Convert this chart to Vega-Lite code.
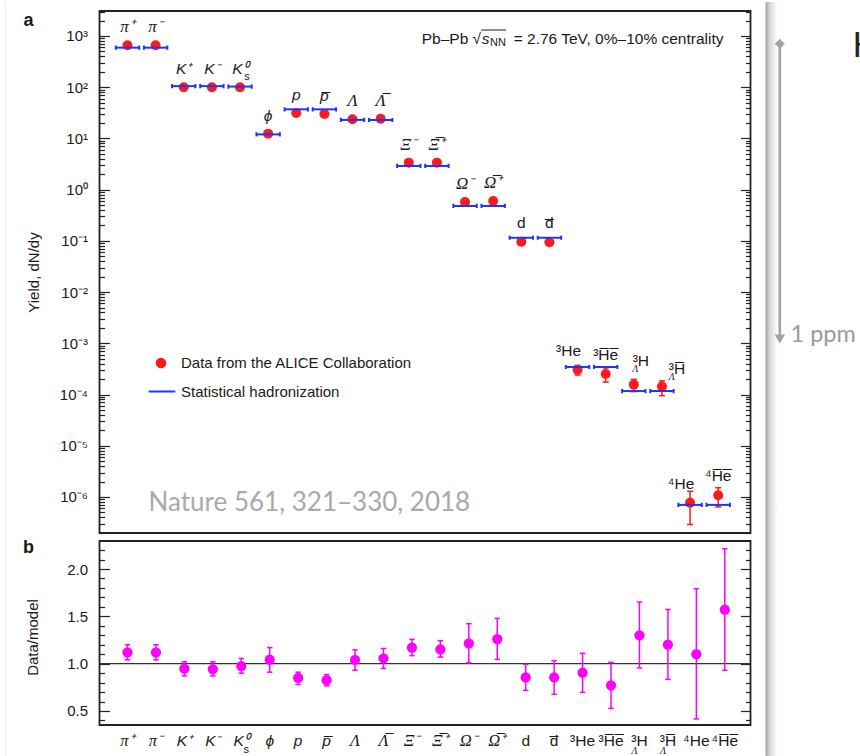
{
  "$schema": "https://vega.github.io/schema/vega-lite/v6.json",
  "background": "white",
  "padding": {"left": 3.5, "top": 0, "right": 0, "bottom": 0},
  "bounds": "flush",
  "spacing": 8,
  "config": {
    "font": "Liberation Sans",
    "view": {"stroke": "#222222", "strokeWidth": 1.8},
    "axis": {
      "domain": false, "grid": false, "tickColor": "#222222", "tickWidth": 1.2,
      "labelColor": "#1a1a1a", "labelFont": "Liberation Sans", "labelFontSize": 15,
      "labelOverlap": false, "titleFont": "Liberation Sans", "titleFontSize": 15,
      "titleFontWeight": "normal", "titleColor": "#1a1a1a"
    },
    "legend": {"labelFont": "Liberation Sans", "labelFontSize": 15, "labelColor": "#1a1a1a", "labelLimit": 400},
    "text": {"color": "#1a1a1a"}
  },
  "datasets": {
    "particles": [
      {"idx": 0, "name": "π⁺", "yield": 658, "model": 592, "r": 1.12, "rlo": 1.04, "rhi": 1.2},
      {"idx": 1, "name": "π⁻", "yield": 658, "model": 592, "r": 1.12, "rlo": 1.04, "rhi": 1.2},
      {"idx": 2, "name": "K⁺", "yield": 100, "model": 105, "r": 0.947, "rlo": 0.87, "rhi": 1.02},
      {"idx": 3, "name": "K⁻", "yield": 100, "model": 105, "r": 0.943, "rlo": 0.87, "rhi": 1.02},
      {"idx": 4, "name": "K⁰", "sub": "s", "yield": 100, "model": 103, "r": 0.975, "rlo": 0.9, "rhi": 1.055},
      {"idx": 5, "name": "ϕ", "yield": 12.4, "model": 12, "r": 1.042, "rlo": 0.91, "rhi": 1.17},
      {"idx": 6, "name": "p", "yield": 31.4, "model": 37, "r": 0.85, "rlo": 0.78, "rhi": 0.91},
      {"idx": 7, "name": "p̅", "yield": 30, "model": 37, "r": 0.825, "rlo": 0.765, "rhi": 0.885},
      {"idx": 8, "name": "Λ", "yield": 23.6, "model": 23, "r": 1.04, "rlo": 0.93, "rhi": 1.145},
      {"idx": 9, "name": "Λ̅", "yield": 24.3, "model": 22.9, "r": 1.056, "rlo": 0.95, "rhi": 1.16},
      {"idx": 10, "name": "Ξ⁻", "yield": 3.37, "model": 2.9, "r": 1.17, "rlo": 1.085, "rhi": 1.257},
      {"idx": 11, "name": "Ξ̅⁺", "yield": 3.37, "model": 2.9, "r": 1.15, "rlo": 1.07, "rhi": 1.243},
      {"idx": 12, "name": "Ω⁻", "yield": 0.574, "model": 0.48, "r": 1.215, "rlo": 1.01, "rhi": 1.422},
      {"idx": 13, "name": "Ω̅⁺", "yield": 0.6, "model": 0.48, "r": 1.26, "rlo": 1.045, "rhi": 1.478},
      {"idx": 14, "name": "d", "yield": 0.096, "model": 0.115, "r": 0.856, "rlo": 0.718, "rhi": 0.993},
      {"idx": 15, "name": "d̅", "yield": 0.094, "model": 0.115, "r": 0.856, "rlo": 0.676, "rhi": 1.032},
      {"idx": 16, "name": "³He", "yield": 0.000306, "model": 0.000345, "ylo": 0.00024, "yhi": 0.00037, "r": 0.905, "rlo": 0.697, "rhi": 1.109},
      {"idx": 17, "name": "³H̅e̅", "yield": 0.000252, "model": 0.000345, "ylo": 0.000175, "yhi": 0.00033, "r": 0.771, "rlo": 0.528, "rhi": 1.014},
      {"idx": 18, "name": "³H", "sub": "Λ", "yield": 0.000156, "model": 0.000117, "ylo": 0.000114, "yhi": 0.000198, "r": 1.3, "rlo": 0.955, "rhi": 1.651},
      {"idx": 19, "name": "³H̅", "sub": "Λ", "yield": 0.000143, "model": 0.000117, "ylo": 0.000095, "yhi": 0.000185, "r": 1.2, "rlo": 0.834, "rhi": 1.573},
      {"idx": 20, "name": "⁴He", "yield": 7.7e-7, "model": 7.0e-7, "ylo": 2.9e-7, "yhi": 1.29e-6, "r": 1.1, "rlo": 0.416, "rhi": 1.792},
      {"idx": 21, "name": "⁴H̅e̅", "yield": 1.08e-6, "model": 7.0e-7, "ylo": 6.4e-7, "yhi": 1.52e-6, "r": 1.57, "rlo": 0.93, "rhi": 2.214}
    ]
  },
  "vconcat": [
    {
      "width": 651,
      "height": 522,
      "data": {"name": "particles"},
      "resolve": {"axis": {"y": "independent"}},
      "layer": [
        {
          "data": {"values": [{}]},
          "mark": {"type": "rule", "color": "#eeeeee", "strokeWidth": 1},
          "encoding": {
            "x": {"datum": -4.337, "type": "quantitative", "axis": null, "scale": {"domain": [-0.995, 22.148], "nice": false, "zero": false}},
            "y": {"datum": 4613, "type": "quantitative", "axis": null, "scale": {"type": "log", "domain": [1.98e-7, 3076], "nice": false}},
            "y2": {"datum": 8e-12}
          }
        },
        {
          "data": {"values": [{}]},
          "mark": {"type": "rect", "strokeWidth": 0, "fill": {"gradient": "linear", "x1": 0, "y1": 0, "x2": 1, "y2": 0, "stops": [{"offset": 0, "color": "#a3a3a3"}, {"offset": 0.35, "color": "#d6d6d6"}, {"offset": 1, "color": "#ffffff"}]}},
          "encoding": {
            "x": {"datum": 22.681, "type": "quantitative", "axis": null},
            "x2": {"datum": 23.107},
            "y": {"datum": 4613, "type": "quantitative", "axis": null},
            "y2": {"datum": 8e-12}
          }
        },
        {
          "data": {"values": [{}]},
          "mark": {"type": "rule", "color": "#9aa89d", "strokeWidth": 2.6},
          "encoding": {
            "x": {"datum": 23.189, "type": "quantitative", "axis": null},
            "y": {"datum": 708, "type": "quantitative", "axis": null},
            "y2": {"datum": 0.0013}
          }
        },
        {
          "data": {"values": [{}]},
          "mark": {"type": "point", "shape": "diamond", "filled": true, "size": 100, "color": "#9aa89d", "opacity": 1},
          "encoding": {
            "x": {"datum": 23.189, "type": "quantitative", "axis": null},
            "y": {"datum": 708, "type": "quantitative", "axis": null}
          }
        },
        {
          "data": {"values": [{}]},
          "mark": {"type": "point", "shape": "triangle-down", "filled": true, "size": 110, "color": "#9aa89d", "opacity": 1},
          "encoding": {
            "x": {"datum": 23.189, "type": "quantitative", "axis": null},
            "y": {"datum": 0.00121, "type": "quantitative", "axis": null}
          }
        },
        {
          "data": {"values": [{}]},
          "mark": {"type": "text", "text": "1 ppm", "font": "Lato", "fontSize": 23.5, "color": "#9a9a9a", "align": "left", "baseline": "middle"},
          "encoding": {
            "x": {"datum": 23.57, "type": "quantitative", "axis": null},
            "y": {"datum": 0.00145, "type": "quantitative", "axis": null}
          }
        },
        {
          "data": {"values": [{}]},
          "mark": {"type": "text", "text": "H", "font": "Lato", "fontSize": 34, "color": "#222222", "align": "left", "baseline": "middle"},
          "encoding": {
            "x": {"datum": 25.774, "type": "quantitative", "axis": null},
            "y": {"datum": 610, "type": "quantitative", "axis": null}
          }
        },
        {
          "data": {"values": [{}]},
          "mark": {"type": "text", "text": "a", "fontSize": 18, "fontWeight": "bold", "align": "center", "baseline": "middle"},
          "encoding": {
            "x": {"datum": -3.519, "type": "quantitative", "axis": null},
            "y": {"datum": 1963, "type": "quantitative", "axis": null}
          }
        },
        {
          "data": {"values": [{}]},
          "mark": {"type": "text", "text": "Nature 561, 321–330, 2018", "font": "Lato", "fontSize": 26, "color": "#a9a9a9", "align": "left", "baseline": "middle"},
          "encoding": {
            "x": {"datum": 0.75, "type": "quantitative", "axis": null},
            "y": {"datum": 7.6e-7, "type": "quantitative", "axis": null}
          }
        },
        {
          "data": {"values": [{}]},
          "mark": {"type": "text", "text": "= 2.76 TeV, 0%–10% centrality", "fontSize": 15.5, "align": "right", "baseline": "middle"},
          "encoding": {
            "x": {"datum": 21.188, "type": "quantitative", "axis": null},
            "y": {"datum": 873, "type": "quantitative", "axis": null}
          }
        },
        {
          "data": {"values": [{}]},
          "mark": {"type": "text", "text": "NN", "fontSize": 11, "align": "right", "baseline": "middle", "dx": -217.5, "dy": 4},
          "encoding": {
            "x": {"datum": 21.188, "type": "quantitative", "axis": null},
            "y": {"datum": 873, "type": "quantitative", "axis": null}
          }
        },
        {
          "data": {"values": [{}]},
          "mark": {"type": "text", "text": "s", "fontSize": 15.5, "fontStyle": "italic", "align": "right", "baseline": "middle", "dx": -233.9},
          "encoding": {
            "x": {"datum": 21.188, "type": "quantitative", "axis": null},
            "y": {"datum": 873, "type": "quantitative", "axis": null}
          }
        },
        {
          "data": {"values": [{}]},
          "mark": {"type": "text", "text": "Pb–Pb √", "fontSize": 15.5, "align": "right", "baseline": "middle", "dx": -242.4},
          "encoding": {
            "x": {"datum": 21.188, "type": "quantitative", "axis": null},
            "y": {"datum": 873, "type": "quantitative", "axis": null}
          }
        },
        {
          "data": {"values": [{}]},
          "mark": {"type": "rule", "color": "#1a1a1a", "strokeWidth": 1},
          "encoding": {
            "x": {"datum": 12.571, "type": "quantitative", "axis": null},
            "x2": {"datum": 13.456},
            "y": {"datum": 1309, "type": "quantitative", "axis": null}
          }
        },
        {
          "transform": [{"filter": "isValid(datum.ylo)"}],
          "mark": {"type": "rule", "color": "#ff1a1a", "strokeWidth": 1.5},
          "encoding": {
            "x": {"field": "idx", "type": "quantitative", "axis": null},
            "y": {"field": "ylo", "type": "quantitative", "axis": null},
            "y2": {"field": "yhi"}
          }
        },
        {
          "transform": [{"filter": "isValid(datum.ylo)"}],
          "mark": {"type": "point", "shape": "M-1,0H1", "filled": false, "size": 36, "strokeWidth": 1.5, "color": "#ff1a1a", "opacity": 1},
          "encoding": {
            "x": {"field": "idx", "type": "quantitative", "axis": null},
            "y": {"field": "ylo", "type": "quantitative", "axis": null}
          }
        },
        {
          "transform": [{"filter": "isValid(datum.yhi)"}],
          "mark": {"type": "point", "shape": "M-1,0H1", "filled": false, "size": 36, "strokeWidth": 1.5, "color": "#ff1a1a", "opacity": 1},
          "encoding": {
            "x": {"field": "idx", "type": "quantitative", "axis": null},
            "y": {"field": "yhi", "type": "quantitative", "axis": null}
          }
        },
        {
          "mark": {"type": "point", "shape": "circle", "filled": true, "size": 100, "opacity": 1},
          "encoding": {
            "x": {"field": "idx", "type": "quantitative", "axis": null},
            "y": {
              "field": "yield", "type": "quantitative",
              "axis": {
                "orient": "left",
                "values": [2e-7, 3e-7, 4e-7, 5e-7, 6e-7, 7e-7, 8e-7, 9e-7, 1e-6, 2e-6, 3e-6, 4e-6, 5e-6, 6e-6, 7e-6, 8e-6, 9e-6, 1e-5, 2e-5, 3e-5, 4e-5, 5e-5, 6e-5, 7e-5, 8e-5, 9e-5, 1e-4, 2e-4, 3e-4, 4e-4, 5e-4, 6e-4, 7e-4, 8e-4, 9e-4, 0.001, 0.002, 0.003, 0.004, 0.005, 0.006, 0.007, 0.008, 0.009, 0.01, 0.02, 0.03, 0.04, 0.05, 0.06, 0.07, 0.08, 0.09, 0.1, 0.2, 0.3, 0.4, 0.5, 0.6, 0.7, 0.8, 0.9, 1, 2, 3, 4, 5, 6, 7, 8, 9, 10, 20, 30, 40, 50, 60, 70, 80, 90, 100, 200, 300, 400, 500, 600, 700, 800, 900, 1000, 2000, 3000],
                "labelExpr": "abs(log(datum.value)/LN10 - round(log(datum.value)/LN10)) < 0.001 ? ['10⁻⁶','10⁻⁵','10⁻⁴','10⁻³','10⁻²','10⁻¹','10⁰','10¹','10²','10³'][round(log(datum.value)/LN10) + 6] : ''",
                "tickSize": {"condition": {"test": "abs(log(datum.value)/LN10 - round(log(datum.value)/LN10)) < 0.001", "value": -10}, "value": -5},
                "labelPadding": 22,
                "title": "Yield, dN/dy",
                "titleAngle": -90,
                "titleX": -66,
                "titleY": 261,
                "titleAlign": "center",
                "titleBaseline": "middle"
              }
            },
            "color": {
              "datum": "Data from the ALICE Collaboration",
              "type": "nominal",
              "scale": {"domain": ["Data from the ALICE Collaboration"], "range": ["#ff1a1a"]},
              "legend": {
                "orient": "none",
                "legendX": 54,
                "legendY": 344.5,
                "title": null,
                "symbolType": "circle",
                "symbolSize": 110,
                "symbolStrokeWidth": 0,
                "symbolOpacity": 1,
                "labelOffset": 12.5
              }
            }
          }
        },
        {
          "mark": {"type": "point", "filled": false, "size": 548, "strokeWidth": 2, "color": "#1f35ff", "opacity": 1},
          "encoding": {
            "x": {"field": "idx", "type": "quantitative", "axis": null},
            "y": {
              "field": "model", "type": "quantitative",
              "axis": {
                "orient": "right",
                "values": [2e-7, 3e-7, 4e-7, 5e-7, 6e-7, 7e-7, 8e-7, 9e-7, 1e-6, 2e-6, 3e-6, 4e-6, 5e-6, 6e-6, 7e-6, 8e-6, 9e-6, 1e-5, 2e-5, 3e-5, 4e-5, 5e-5, 6e-5, 7e-5, 8e-5, 9e-5, 1e-4, 2e-4, 3e-4, 4e-4, 5e-4, 6e-4, 7e-4, 8e-4, 9e-4, 0.001, 0.002, 0.003, 0.004, 0.005, 0.006, 0.007, 0.008, 0.009, 0.01, 0.02, 0.03, 0.04, 0.05, 0.06, 0.07, 0.08, 0.09, 0.1, 0.2, 0.3, 0.4, 0.5, 0.6, 0.7, 0.8, 0.9, 1, 2, 3, 4, 5, 6, 7, 8, 9, 10, 20, 30, 40, 50, 60, 70, 80, 90, 100, 200, 300, 400, 500, 600, 700, 800, 900, 1000, 2000, 3000],
                "labels": false,
                "tickSize": {"condition": {"test": "abs(log(datum.value)/LN10 - round(log(datum.value)/LN10)) < 0.001", "value": -10}, "value": -5},
                "title": null
              }
            },
            "shape": {
              "datum": "Statistical hadronization",
              "type": "nominal",
              "scale": {"domain": ["Statistical hadronization"], "range": ["M-1,0H1"]},
              "legend": {
                "orient": "none",
                "legendX": 48,
                "legendY": 366,
                "title": null,
                "symbolSize": 713,
                "symbolStrokeColor": "#1f35ff",
                "symbolStrokeWidth": 2,
                "symbolFillColor": "transparent",
                "symbolOpacity": 1,
                "labelOffset": 4.5
              }
            }
          }
        },
        {
          "mark": {"type": "point", "shape": "M-1,-0.18V0.18M1,-0.18V0.18", "filled": false, "size": 548, "strokeWidth": 2, "color": "#1f35ff", "opacity": 1},
          "encoding": {
            "x": {"field": "idx", "type": "quantitative", "axis": null},
            "y": {"field": "model", "type": "quantitative", "axis": null}
          }
        },
        {
          "transform": [{"filter": "indexof([0, 1, 8, 9, 10, 11, 12, 13], datum.idx) >= 0"}],
          "mark": {"type": "text", "font": "Liberation Serif", "fontStyle": "italic", "fontSize": 17, "align": "center", "baseline": "middle", "dy": -18},
          "encoding": {
            "x": {"field": "idx", "type": "quantitative", "axis": null},
            "y": {"field": "yield", "type": "quantitative", "axis": null},
            "text": {"field": "name"}
          }
        },
        {
          "transform": [{"filter": "datum.idx >= 2 && datum.idx <= 7"}],
          "mark": {"type": "text", "fontStyle": "italic", "fontSize": 15.5, "align": "center", "baseline": "middle", "dy": -18},
          "encoding": {
            "x": {"field": "idx", "type": "quantitative", "axis": null},
            "y": {"field": "yield", "type": "quantitative", "axis": null},
            "text": {"field": "name"}
          }
        },
        {
          "transform": [{"filter": "indexof([14, 15, 17, 21], datum.idx) >= 0"}],
          "mark": {"type": "text", "fontSize": 15.5, "align": "center", "baseline": "middle", "dy": -19},
          "encoding": {
            "x": {"field": "idx", "type": "quantitative", "axis": null},
            "y": {"field": "yield", "type": "quantitative", "axis": null},
            "text": {"field": "name"}
          }
        },
        {
          "transform": [{"filter": "datum.idx == 16 || datum.idx == 20"}],
          "mark": {"type": "text", "fontSize": 15.5, "align": "center", "baseline": "middle", "dx": -9, "dy": -19},
          "encoding": {
            "x": {"field": "idx", "type": "quantitative", "axis": null},
            "y": {"field": "yield", "type": "quantitative", "axis": null},
            "text": {"field": "name"}
          }
        },
        {
          "transform": [{"filter": "datum.idx == 18"}],
          "mark": {"type": "text", "fontSize": 15.5, "align": "center", "baseline": "middle", "dx": 7, "dy": -24},
          "encoding": {
            "x": {"field": "idx", "type": "quantitative", "axis": null},
            "y": {"field": "yield", "type": "quantitative", "axis": null},
            "text": {"field": "name"}
          }
        },
        {
          "transform": [{"filter": "datum.idx == 19"}],
          "mark": {"type": "text", "fontSize": 15.5, "align": "center", "baseline": "middle", "dx": 15, "dy": -17.5},
          "encoding": {
            "x": {"field": "idx", "type": "quantitative", "axis": null},
            "y": {"field": "yield", "type": "quantitative", "axis": null},
            "text": {"field": "name"}
          }
        },
        {
          "transform": [{"filter": "datum.idx == 4"}],
          "mark": {"type": "text", "fontSize": 11, "align": "center", "baseline": "middle", "dx": 7, "dy": -10},
          "encoding": {
            "x": {"field": "idx", "type": "quantitative", "axis": null},
            "y": {"field": "yield", "type": "quantitative", "axis": null},
            "text": {"field": "sub"}
          }
        },
        {
          "transform": [{"filter": "datum.idx == 18"}],
          "mark": {"type": "text", "font": "Liberation Serif", "fontStyle": "italic", "fontSize": 10, "align": "center", "baseline": "middle", "dx": 1.5, "dy": -16},
          "encoding": {
            "x": {"field": "idx", "type": "quantitative", "axis": null},
            "y": {"field": "yield", "type": "quantitative", "axis": null},
            "text": {"field": "sub"}
          }
        },
        {
          "transform": [{"filter": "datum.idx == 19"}],
          "mark": {"type": "text", "font": "Liberation Serif", "fontStyle": "italic", "fontSize": 10, "align": "center", "baseline": "middle", "dx": 9.7, "dy": -9.5},
          "encoding": {
            "x": {"field": "idx", "type": "quantitative", "axis": null},
            "y": {"field": "yield", "type": "quantitative", "axis": null},
            "text": {"field": "sub"}
          }
        }
      ]
    },
    {
      "width": 651,
      "height": 184,
      "data": {"name": "particles"},
      "resolve": {"axis": {"y": "independent"}},
      "layer": [
        {
          "data": {"values": [{}]},
          "mark": {"type": "text", "text": "b", "fontSize": 18, "fontWeight": "bold", "align": "center", "baseline": "middle"},
          "encoding": {
            "x": {"datum": -3.48, "type": "quantitative", "axis": null, "scale": {"domain": [-0.984, 21.904], "nice": false, "zero": false}},
            "y": {"datum": 2.225, "type": "quantitative", "axis": null, "scale": {"domain": [0.352, 2.296], "nice": false, "zero": false}}
          }
        },
        {
          "data": {"values": [{}]},
          "mark": {"type": "rule", "color": "#333333", "strokeWidth": 1.2},
          "encoding": {
            "y": {"datum": 1, "type": "quantitative", "axis": null}
          }
        },
        {
          "mark": {"type": "rule", "color": "#ff00ff", "strokeWidth": 1.5},
          "encoding": {
            "x": {"field": "idx", "type": "quantitative", "axis": null},
            "y": {"field": "rlo", "type": "quantitative", "axis": null},
            "y2": {"field": "rhi"}
          }
        },
        {
          "mark": {"type": "point", "shape": "M-1,0H1", "filled": false, "size": 30, "strokeWidth": 1.5, "color": "#ff00ff", "opacity": 1},
          "encoding": {
            "x": {"field": "idx", "type": "quantitative", "axis": null},
            "y": {"field": "rlo", "type": "quantitative", "axis": null}
          }
        },
        {
          "mark": {"type": "point", "shape": "M-1,0H1", "filled": false, "size": 30, "strokeWidth": 1.5, "color": "#ff00ff", "opacity": 1},
          "encoding": {
            "x": {"field": "idx", "type": "quantitative", "axis": null},
            "y": {
              "field": "rhi", "type": "quantitative",
              "axis": {
                "orient": "right",
                "values": [0.4, 0.5, 0.6, 0.7, 0.8, 0.9, 1.0, 1.1, 1.2, 1.3, 1.4, 1.5, 1.6, 1.7, 1.8, 1.9, 2.0, 2.1, 2.2],
                "labels": false,
                "tickSize": {"condition": {"test": "abs(datum.value*2 - round(datum.value*2)) < 0.001", "value": -10}, "value": -5},
                "title": null
              }
            }
          }
        },
        {
          "mark": {"type": "point", "shape": "circle", "filled": true, "size": 105, "color": "#ff00ff", "opacity": 1},
          "encoding": {
            "x": {"field": "idx", "type": "quantitative", "axis": null},
            "y": {
              "field": "r", "type": "quantitative",
              "axis": {
                "orient": "left",
                "values": [0.4, 0.5, 0.6, 0.7, 0.8, 0.9, 1.0, 1.1, 1.2, 1.3, 1.4, 1.5, 1.6, 1.7, 1.8, 1.9, 2.0, 2.1, 2.2],
                "labelExpr": "abs(datum.value*2 - round(datum.value*2)) < 0.001 ? format(datum.value, '.1f') : ''",
                "tickSize": {"condition": {"test": "abs(datum.value*2 - round(datum.value*2)) < 0.001", "value": -10}, "value": -5},
                "labelPadding": 22,
                "title": "Data/model",
                "titleAngle": -90,
                "titleX": -67,
                "titleY": 96,
                "titleAlign": "center",
                "titleBaseline": "middle"
              }
            }
          }
        },
        {
          "transform": [{"filter": "indexof([0, 1, 8, 9, 10, 11, 12, 13], datum.idx) >= 0"}],
          "mark": {"type": "text", "font": "Liberation Serif", "fontStyle": "italic", "fontSize": 16.5, "align": "center", "baseline": "middle"},
          "encoding": {
            "x": {"field": "idx", "type": "quantitative", "axis": null},
            "y": {"datum": 0.187, "type": "quantitative", "axis": null},
            "text": {"field": "name"}
          }
        },
        {
          "transform": [{"filter": "datum.idx >= 2 && datum.idx <= 7"}],
          "mark": {"type": "text", "fontStyle": "italic", "fontSize": 15.5, "align": "center", "baseline": "middle"},
          "encoding": {
            "x": {"field": "idx", "type": "quantitative", "axis": null},
            "y": {"datum": 0.187, "type": "quantitative", "axis": null},
            "text": {"field": "name"}
          }
        },
        {
          "transform": [{"filter": "datum.idx >= 14"}],
          "mark": {"type": "text", "fontSize": 15.5, "align": "center", "baseline": "middle"},
          "encoding": {
            "x": {"field": "idx", "type": "quantitative", "axis": null},
            "y": {"datum": 0.187, "type": "quantitative", "axis": null},
            "text": {"field": "name"}
          }
        },
        {
          "transform": [{"filter": "datum.idx == 4"}],
          "mark": {"type": "text", "fontSize": 11, "align": "center", "baseline": "middle", "dx": 5, "dy": 9},
          "encoding": {
            "x": {"field": "idx", "type": "quantitative", "axis": null},
            "y": {"datum": 0.187, "type": "quantitative", "axis": null},
            "text": {"field": "sub"}
          }
        },
        {
          "transform": [{"filter": "datum.idx == 18 || datum.idx == 19"}],
          "mark": {"type": "text", "font": "Liberation Serif", "fontStyle": "italic", "fontSize": 10, "align": "center", "baseline": "middle", "dx": -5, "dy": 10},
          "encoding": {
            "x": {"field": "idx", "type": "quantitative", "axis": null},
            "y": {"datum": 0.187, "type": "quantitative", "axis": null},
            "text": {"field": "sub"}
          }
        }
      ]
    }
  ]
}
